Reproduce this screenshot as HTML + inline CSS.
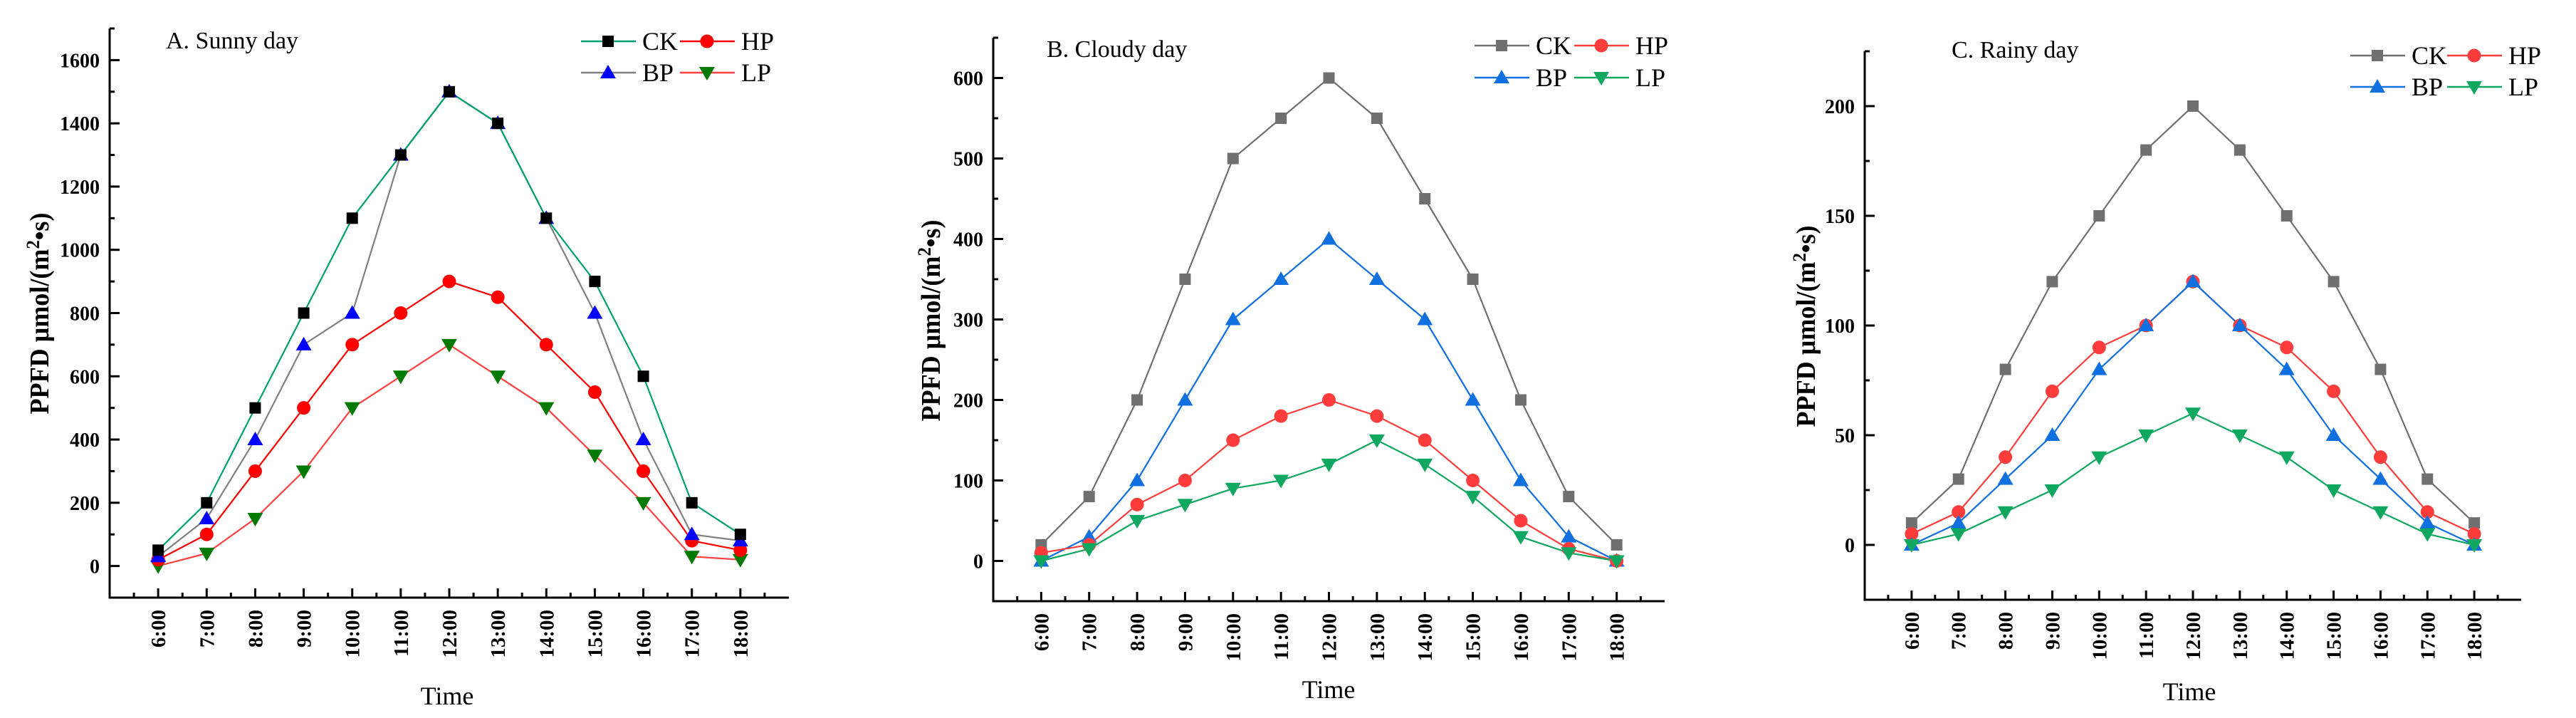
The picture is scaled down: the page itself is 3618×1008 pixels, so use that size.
<!DOCTYPE html>
<html><head><meta charset="utf-8"><style>
html,body{margin:0;padding:0;background:#fff;}
svg{display:block;}
text{font-family:"Liberation Serif",serif;}
</style></head>
<body>
<svg id="svg" width="3618" height="1008" viewBox="0 0 3618 1008" xmlns="http://www.w3.org/2000/svg"></svg>
<script>
const times = ["6:00","7:00","8:00","9:00","10:00","11:00","12:00","13:00","14:00","15:00","16:00","17:00","18:00"];
const seriesNames = ["CK","HP","BP","LP"];
// A. Sunny day
const sunnyCK = [50,200,500,800,1100,1300,1500,1400,1100,900,600,200,100];
const sunnyHP = [20,100,300,500,700,800,900,850,700,550,300,80,50];
const sunnyBP = [30,150,400,700,800,1300,1500,1400,1100,800,400,100,80];
const sunnyLP = [0,40,150,300,500,600,700,600,500,350,200,30,20];
const sunnyTicks = [0,200,400,600,800,1000,1200,1400,1600];
// B. Cloudy day
const cloudyCK = [20,80,200,350,500,550,600,550,450,350,200,80,20];
const cloudyHP = [10,20,70,100,150,180,200,180,150,100,50,15,0];
const cloudyBP = [0,30,100,200,300,350,400,350,300,200,100,30,0];
const cloudyLP = [0,15,50,70,90,100,120,150,120,80,30,10,0];
const cloudyTicks = [0,100,200,300,400,500,600];
// C. Rainy day
const rainyCK = [10,30,80,120,150,180,200,180,150,120,80,30,10];
const rainyHP = [5,15,40,70,90,100,120,100,90,70,40,15,5];
const rainyBP = [0,10,30,50,80,100,120,100,80,50,30,10,0];
const rainyLP = [0,5,15,25,40,50,60,50,40,25,15,5,0];
const rainyTicks = [0,50,100,150,200];

const NS="http://www.w3.org/2000/svg";
const svg=document.getElementById('svg');
function mk(tag,attrs,parent){const e=document.createElementNS(NS,tag);for(const k in attrs)e.setAttribute(k,attrs[k]);(parent||svg).appendChild(e);return e;}

function marker(g,shape,x,y,fill){
  let e;
  if(shape==='square') e=mk('rect',{x:x-8,y:y-8,width:16,height:16,fill:fill},g);
  else if(shape==='circle') e=mk('circle',{cx:x,cy:y,r:9.5,fill:fill},g);
  else if(shape==='up') e=mk('polygon',{points:`${x},${y-11} ${x+11},${y+8} ${x-11},${y+8}`,fill:fill},g);
  else e=mk('polygon',{points:`${x},${y+11} ${x+11},${y-8} ${x-11},${y-8}`,fill:fill},g);
  return e;
}

function drawChart(c){
  const g=mk('g',{});
  
  
  const n=times.length;
  const xs=i=>c.x0+(c.x1-c.x0)*(i+1)/(n+1);
  const ys=v=>c.yb+(c.yt-c.yb)*(v-c.ymin)/(c.ymax-c.ymin);
  const ax=mk('path',{d:`M${c.x0},${c.yt} L${c.x0},${c.yb} L${c.x1},${c.yb}`,fill:'none',stroke:'#000','stroke-width':3},g);
  
  
  for(let v=Math.ceil(c.ymin/c.minor)*c.minor; v<=c.ymax; v+=c.minor){
    const major=c.ticks.includes(v);
    mk('line',{x1:c.x0,x2:c.x0+(major?14:7),y1:ys(v),y2:ys(v),stroke:'#000','stroke-width':3},g);
  }
  c.ticks.forEach(v=>{
    const t=mk('text',{x:c.x0-14,y:ys(v)+10,'text-anchor':'end','font-size':28,'font-weight':'bold'},g);
    t.textContent=v;
    
    
  });
  for(let i=-1;i<=n;i++){
    if(i>=0&&i<n) mk('line',{x1:xs(i),x2:xs(i),y1:c.yb,y2:c.yb-13,stroke:'#000','stroke-width':3},g);
    if(i<n) mk('line',{x1:(xs(i)+xs(i+1))/2,x2:(xs(i)+xs(i+1))/2,y1:c.yb,y2:c.yb-7,stroke:'#000','stroke-width':3},g);
  }
  times.forEach((tm,i)=>{
    const t=mk('text',{x:0,y:0,'text-anchor':'end','font-size':29,'font-weight':'bold',transform:`translate(${xs(i)+10},${c.yb+17}) rotate(-90)`},g);
    t.textContent=tm;
    
    
  });
  const yt=mk('text',{x:0,y:0,'text-anchor':'middle','font-size':38,'font-weight':'bold',textLength:283,lengthAdjust:'spacingAndGlyphs',transform:`translate(${c.ytx+13},${c.yty}) rotate(-90)`},g);
  yt.innerHTML='PPFD μmol/(m<tspan dy="-13" font-size="26">2</tspan><tspan dy="13">•s)</tspan>';
  
  
  const xt=mk('text',{x:c.tx,y:c.ty+12,'text-anchor':'middle','font-size':36},g);
  xt.textContent='Time';
  
  
  const tt=mk('text',{x:c.titleX,y:c.titleY,'font-size':34},g);
  tt.textContent=c.title;
  
  
  c.order.forEach(k=>{
    const s=c.series[k];
    const sg=mk('g',{},g);
    
    
    mk('polyline',{points:s.data.map((v,i)=>xs(i)+','+ys(v)).join(' '),fill:'none',stroke:s.line,'stroke-width':2.2},sg);
  });
  c.order.forEach(k=>{
    const s=c.series[k];
    s.data.forEach((v,i)=>{
      const m=marker(g,s.shape,xs(i),ys(v),s.fill);
      
      
    });
  });
  const lg=mk('g',{},g);
  
  
  const L=c.leg;
  const pos={CK:[L.c1,L.r1],HP:[L.c2,L.r1],BP:[L.c1,L.r2],LP:[L.c2,L.r2]};
  seriesNames.forEach(k=>{
    const s=c.series[k];const [lx,ly]=pos[k];
    const e=mk('g',{},lg);
    
    
    mk('line',{x1:lx,x2:lx+77,y1:ly,y2:ly,stroke:s.line,'stroke-width':2.5},e);
    marker(e,s.shape,lx+38,ly,s.fill);
    const t=mk('text',{x:lx+86,y:ly+12,'font-size':36},e);
    t.textContent=k;
  });
}

drawChart({id:'chart-sunny',title:'A. Sunny day',x0:154,x1:1108,yt:40,yb:839,ymin:-100,ymax:1700,ticks:sunnyTicks,minor:100,
  ytx:55,yty:440,tx:628,ty:977,titleX:233,titleY:68,
  leg:{c1:816,c2:955,r1:58,r2:102},order:['LP','HP','BP','CK'],
  series:{CK:{data:sunnyCK,line:'#00a070',fill:'#000',shape:'square'},
          HP:{data:sunnyHP,line:'#ff0000',fill:'#ff0000',shape:'circle'},
          BP:{data:sunnyBP,line:'#808080',fill:'#0000ff',shape:'up'},
          LP:{data:sunnyLP,line:'#ff4040',fill:'#007a00',shape:'down'}}});
drawChart({id:'chart-cloudy',title:'B. Cloudy day',x0:1395,x1:2338,yt:53,yb:844,ymin:-50,ymax:650,ticks:cloudyTicks,minor:50,
  ytx:1307,yty:450,tx:1866,ty:968,titleX:1470,titleY:80,
  leg:{c1:2071,c2:2211,r1:64,r2:109},order:['CK','BP','HP','LP'],
  series:{CK:{data:cloudyCK,line:'#707070',fill:'#707070',shape:'square'},
          HP:{data:cloudyHP,line:'#ff3c3c',fill:'#ff3c3c',shape:'circle'},
          BP:{data:cloudyBP,line:'#1070e0',fill:'#1070e0',shape:'up'},
          LP:{data:cloudyLP,line:'#10a860',fill:'#10a860',shape:'down'}}});
drawChart({id:'chart-rainy',title:'C. Rainy day',x0:2619,x1:3541,yt:72,yb:842,ymin:-25,ymax:225,ticks:rainyTicks,minor:25,
  ytx:2536,yty:458,tx:3075,ty:971,titleX:2741,titleY:81,
  leg:{c1:3301,c2:3437,r1:78,r2:122},order:['CK','HP','BP','LP'],
  series:{CK:{data:rainyCK,line:'#707070',fill:'#707070',shape:'square'},
          HP:{data:rainyHP,line:'#ff3c3c',fill:'#ff3c3c',shape:'circle'},
          BP:{data:rainyBP,line:'#1070e0',fill:'#1070e0',shape:'up'},
          LP:{data:rainyLP,line:'#10a860',fill:'#10a860',shape:'down'}}});
</script>
</body></html>
